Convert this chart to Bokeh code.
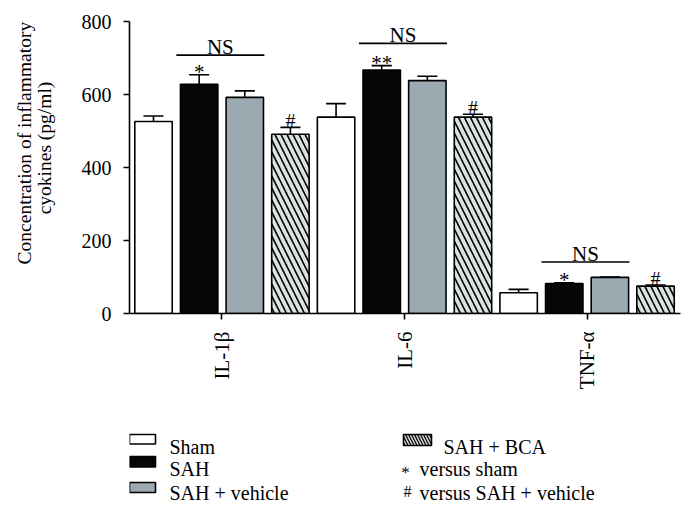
import math
from bokeh.plotting import figure
from bokeh.models import Range1d, FixedTicker
from bokeh.layouts import column
from bokeh.embed import file_html
from bokeh.resources import INLINE
from bokeh.core.properties import value

# ---------------- data ----------------
cytokines = ["IL-1β", "IL-6", "TNF-α"]
groups = ["Sham", "SAH", "SAH + vehicle", "SAH + BCA"]
sham_mean = [526, 538, 57]
sah_mean = [628, 667, 82]
veh_mean = [592, 638, 99]
bca_mean = [491, 538, 75]
sham_err = [15, 37, 9]
sah_err = [26, 12, 2]
veh_err = [18, 12, 1]
bca_err = [19, 8, 3]
sah_marks = ["*", "**", "*"]
bca_marks = ["#", "#", "#"]
ns_level = [708, 740, 141]
y_ticks = [0, 200, 400, 600, 800]
y_title = ["Concentration of inflammatory", "cyokines (pg/ml)"]
legend_labels = ["Sham", "SAH", "SAH + vehicle", "SAH + BCA"]
note_symbols = ["*", "#"]
note_labels = ["versus sham", "versus SAH + vehicle"]

FONT = "Liberation Serif"
fills = ["#ffffff", "#060606", "#9ba9b1", "#dbe2e2"]
hatches = [" ", " ", " ", "\\"]

means = [sham_mean, sah_mean, veh_mean, bca_mean]
errs = [sham_err, sah_err, veh_err, bca_err]
ng = len(groups)
bar_w = 0.82
cap_w = 0.44

p = figure(width=694, height=402, output_backend="svg", toolbar_location=None,
           x_range=Range1d(-0.526, 11.547), y_range=Range1d(0, 800),
           min_border_left=129, min_border_right=14, min_border_top=21,
           min_border_bottom=89)
p.outline_line_color = None
p.grid.visible = False

for gi in range(ng):
    xs = [ci * ng + gi for ci in range(len(cytokines))]
    tops = [m + e for m, e in zip(means[gi], errs[gi])]
    p.segment(x0=xs, y0=means[gi], x1=xs, y1=tops, line_color="black", line_width=1.6)
    p.segment(x0=[x - cap_w / 2 for x in xs], y0=tops, x1=[x + cap_w / 2 for x in xs], y1=tops,
              line_color="black", line_width=1.6)
    p.vbar(x=xs, top=means[gi], bottom=0, width=bar_w, fill_color=fills[gi],
           line_color="black", line_width=1.6, hatch_pattern=hatches[gi],
           hatch_color="black", hatch_weight=1.6, hatch_scale=12)

# significance marks
sah_x = [ci * ng + 1 for ci in range(len(cytokines))]
sah_tops = [m + e for m, e in zip(sah_mean, sah_err)]
p.text(x=sah_x, y=sah_tops, text=sah_marks, text_font=value(FONT), text_font_size="21px",
       text_align="center", text_baseline="alphabetic", y_offset=-3)
bca_x = [ci * ng + 3 for ci in range(len(cytokines))]
bca_tops = [m + e for m, e in zip(bca_mean, bca_err)]
p.text(x=bca_x, y=bca_tops, text=bca_marks, text_font=value(FONT), text_font_size="20px",
       text_align="center", text_baseline="alphabetic", y_offset=-6)

# NS brackets
ns_x0 = [ci * ng + 1 - 0.5 for ci in range(len(cytokines))]
ns_x1 = [ci * ng + 2 + 0.43 for ci in range(len(cytokines))]
p.segment(x0=ns_x0, y0=ns_level, x1=ns_x1, y1=ns_level, line_color="black", line_width=1.6)
p.text(x=[(a + b) / 2 for a, b in zip(ns_x0, ns_x1)], y=ns_level, text=["NS"] * len(cytokines),
       text_font=value(FONT), text_font_size="21px", text_align="center",
       text_baseline="alphabetic", y_offset=-8)

# axes
xa = p.xaxis[0]
xa.ticker = FixedTicker(ticks=[ci * ng + (ng - 1) / 2 for ci in range(len(cytokines))])
xa.major_label_overrides = {ci * ng + (ng - 1) / 2: c for ci, c in enumerate(cytokines)}
xa.major_label_orientation = math.pi / 2
ya = p.yaxis[0]
ya.ticker = FixedTicker(ticks=y_ticks)
for ax in (xa, ya):
    ax.axis_line_width = 1.6
    ax.axis_line_color = "black"
    ax.major_tick_line_width = 1.6
    ax.major_tick_line_color = "black"
    ax.major_tick_out = 6
    ax.major_tick_in = 0
    ax.minor_tick_line_color = None
    ax.major_label_text_font = FONT
    ax.major_label_text_color = "black"
    ax.major_label_standoff = 12
xa.major_label_text_font_size = "21px"
ya.major_label_text_font_size = "20px"

pad = "\u00a0"
ya.axis_label = "\n".join([pad * 10 + y_title[0], pad * 8 + y_title[1]])
ya.axis_label_text_font = FONT
ya.axis_label_text_font_style = "normal"
ya.axis_label_text_font_size = "19.5px"
ya.axis_label_text_color = "black"
ya.axis_label_standoff = 24
ya.axis_label_text_line_height = 0.95

# ---------------- legend ----------------
lg = figure(width=694, height=104, output_backend="svg", toolbar_location=None,
            x_range=Range1d(129, 680), y_range=Range1d(506, 402),
            x_axis_location=None, y_axis_location=None,
            min_border=0)
lg.outline_line_color = None
lg.grid.visible = False

box_left = [129, 129, 129, 403]
box_right = [155, 155, 155, 431]
box_top = [434, 456, 482, 434]
box_bottom = [443.5, 466.5, 492, 445]
lg.quad(left=box_left, right=box_right, top=box_top, bottom=box_bottom,
        fill_color=fills, line_color="black", line_width=1.6,
        hatch_pattern=hatches, hatch_color="black", hatch_weight=1.3, hatch_scale=6)
lg.text(x=[169, 169, 169, 443], y=[446, 468.5, 492, 446], text=legend_labels,
        text_font=value(FONT), text_font_size="20px", text_baseline="alphabetic")
lg.text(x=[405, 407], y=[472, 491], text=note_symbols, text_font=value(FONT),
        text_font_size=["17px", "16px"], text_align="center", text_baseline="alphabetic")
lg.text(x=[419, 419], y=[468.5, 492], text=note_labels,
        text_font=value(FONT), text_font_size="20px", text_baseline="alphabetic")

layout = column(p, lg)
open("out.html", "w").write(file_html(layout, INLINE))
